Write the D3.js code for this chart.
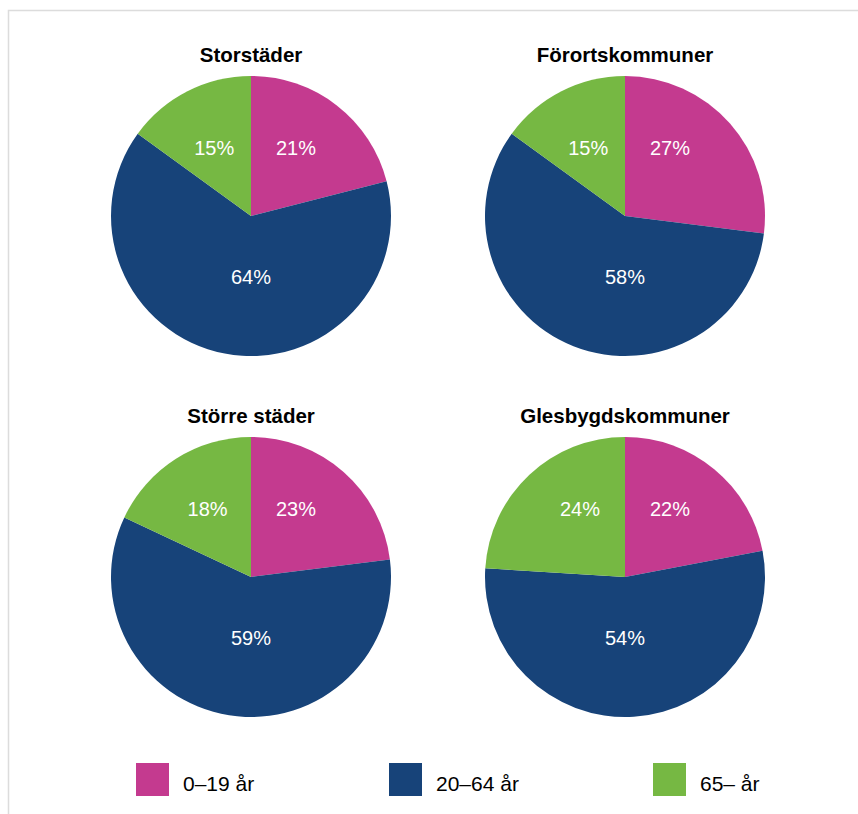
<!DOCTYPE html>
<html>
<head>
<meta charset="utf-8">
<script src="https://cdn.jsdelivr.net/npm/d3@7"></script>
<style>
  html, body { margin: 0; padding: 0; background: #fff; }
  svg { display: block; font-family: "Liberation Sans", Arial, sans-serif; }
</style>
</head>
<body>
<svg id="chart" width="858" height="814"></svg>
<script>
const regions = ["Storstäder", "Förortskommuner", "Större städer", "Glesbygdskommuner"];
const ageGroups = ["0–19 år", "20–64 år", "65– år"];
const share0to19 = [21, 27, 23, 22];
const share20to64 = [64, 58, 59, 54];
const share65plus = [15, 15, 18, 24];
const colors = ["#C43A8F", "#174379", "#76B843"];

const W = 858, H = 814;
const svg = d3.select("#chart");

// frame
svg.append("path")
  .attr("d", `M8.5,${H} V10.5 H${W}`)
  .attr("fill", "none").attr("stroke", "#dcdcdc").attr("stroke-width", 1.5);

const R = 140;
const colX = d3.scalePoint().domain([0, 1]).range([251, 625]);
const rowY = d3.scalePoint().domain([0, 1]).range([216, 577]);
const color = d3.scaleOrdinal().domain(ageGroups).range(colors);

const pie = d3.pie().sort(null).value(d => d.value);
const arc = d3.arc().innerRadius(0).outerRadius(R);

// label placement rule: side slices in the upper part (x clamped), middle slice below center
const labelPos = (d, i) => {
  if (i === 1) return [0, 61];
  const mid = (d.startAngle + d.endAngle) / 2;
  const x = 81 * Math.sin(mid);
  return [Math.sign(x) * Math.min(Math.abs(x), 45), -68];
};

regions.forEach((name, k) => {
  const cx = colX(k % 2), cy = rowY(Math.floor(k / 2));
  const data = ageGroups.map((g, i) => ({
    group: g,
    value: [share0to19, share20to64, share65plus][i][k]
  }));
  const g = svg.append("g").attr("transform", `translate(${cx},${cy})`);

  g.append("text")
    .attr("x", 0).attr("y", -R - 14)
    .attr("text-anchor", "middle")
    .attr("font-size", 20.5).attr("font-weight", "bold").attr("fill", "#000")
    .text(name);

  const arcs = pie(data);
  g.selectAll("path.slice").data(arcs).join("path")
    .attr("class", "slice")
    .attr("d", arc)
    .attr("fill", d => color(d.data.group));

  g.selectAll("text.lbl").data(arcs).join("text")
    .attr("class", "lbl")
    .attr("x", (d, i) => labelPos(d, i)[0])
    .attr("y", (d, i) => labelPos(d, i)[1])
    .attr("dy", "0.35em")
    .attr("text-anchor", "middle")
    .attr("font-size", 20).attr("fill", "#fff")
    .text(d => d.data.value + "%");
});

// legend
const legX = d3.scaleOrdinal().domain(ageGroups).range([136, 389, 653]);
const leg = svg.append("g");
ageGroups.forEach(gname => {
  const x = legX(gname);
  leg.append("rect").attr("x", x).attr("y", 763).attr("width", 33).attr("height", 33)
    .attr("fill", color(gname));
  leg.append("text").attr("x", x + 47).attr("y", 791)
    .attr("font-size", 21).attr("fill", "#000")
    .text(gname);
});
</script>
</body>
</html>
